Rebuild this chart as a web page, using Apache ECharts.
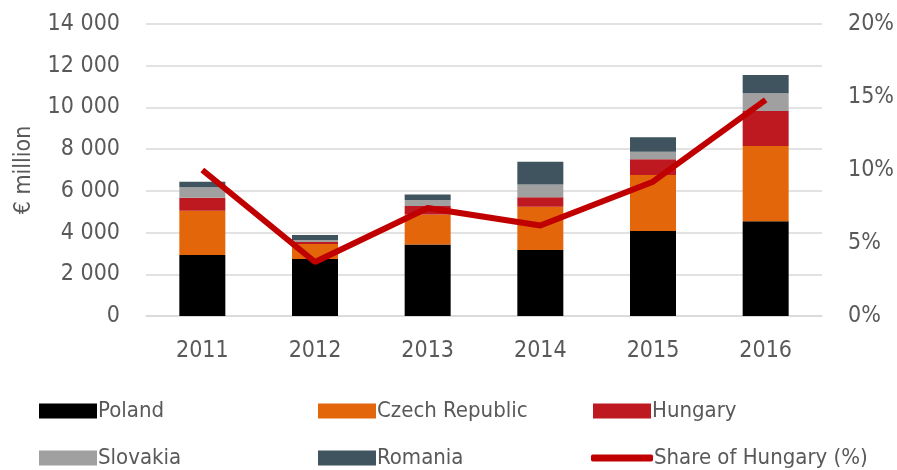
<!DOCTYPE html>
<html><head><meta charset="utf-8">
<script src="https://cdn.jsdelivr.net/npm/echarts@6/dist/echarts.min.js"></script>
<style>html,body{margin:0;padding:0;background:#fff}#c{width:897px;height:470px}</style>
</head><body><div id="c"></div>
<script>
const years = ['2011','2012','2013','2014','2015','2016'];
const poland   = [2920, 2730, 3430, 3160, 4070, 4540];
const czech    = [2130,  720, 1440, 2080, 2690, 3610];
const hungary  = [ 620,  100,  400,  450,  750, 1680];
const slovakia = [ 500,   90,  290,  620,  370,  850];
const romania  = [ 270,  240,  270, 1090,  690,  870];
const shareHungary = [10.0, 3.7, 7.4, 6.2, 9.2, 14.8];
const leftTicks = [0, 2000, 4000, 6000, 8000, 10000, 12000, 14000];

const FONT = "'DejaVu Sans Condensed','Liberation Sans Narrow',sans-serif";
const TXT = '#595959';
const FS = 23;
const chart = echarts.init(document.getElementById('c'));
function bar(name, data, color){
  return {name, type:'bar', stack:'t', data, barWidth:46, itemStyle:{color}};
}
function leg(name, left, top, extra){
  return Object.assign({data:[name], left, top, icon:'rect', itemWidth:58, itemHeight:15, itemGap:0,
    textStyle:{fontFamily:FONT, fontSize:22, color:TXT, padding:[0,0,0,-4]}}, extra||{});
}
chart.setOption({
  animation:false,
  grid:{left:146, right:75, top:24, bottom:154},
  legend:[
    leg('Poland',34,395), leg('Czech Republic',313,395), leg('Hungary',588,395),
    leg('Slovakia',34,442), leg('Romania',313,442),
    leg('Share of Hungary (%)',586,442,{icon:'roundRect', itemWidth:62, itemHeight:7})
  ],
  xAxis:{type:'category', data:years,
    axisLine:{lineStyle:{color:'#D9D9D9', width:1.5}}, axisTick:{show:false},
    axisLabel:{fontFamily:FONT, fontSize:FS, color:TXT, margin:24}},
  yAxis:[
    {type:'value', min:0, max:14000, interval:2000, name:'€ million', nameLocation:'middle', nameGap:110,
     nameTextStyle:{fontFamily:FONT, fontSize:FS, color:TXT},
     axisLabel:{fontFamily:FONT, fontSize:FS, color:TXT, margin:26,
       formatter:v=>v===0?'0':String(v).replace(/\B(?=(\d{3})+(?!\d))/g,' ')},
     splitLine:{lineStyle:{color:'#D9D9D9', width:1.5}}},
    {type:'value', min:0, max:20, interval:5, position:'right',
     axisLabel:{fontFamily:FONT, fontSize:FS, color:TXT, margin:26, formatter:'{value}%'},
     splitLine:{show:false}}
  ],
  series:[
    bar('Poland', poland, '#000000'),
    bar('Czech Republic', czech, '#E3670A'),
    bar('Hungary', hungary, '#BE1820'),
    bar('Slovakia', slovakia, '#A0A0A0'),
    bar('Romania', romania, '#3F545E'),
    {name:'Share of Hungary (%)', type:'line', yAxisIndex:1, data:shareHungary,
     symbol:'none', lineStyle:{color:'#C00000', width:6}, itemStyle:{color:'#C00000'}}
  ]
});
</script></body></html>
